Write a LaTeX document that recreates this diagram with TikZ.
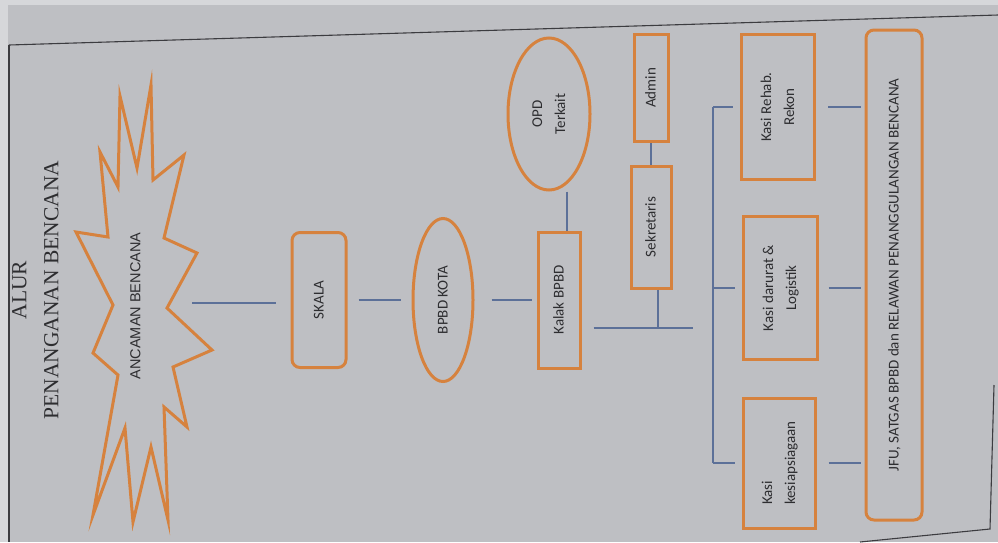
\documentclass[tikz,border=0pt]{standalone}
\usepackage{fontspec}
\usepackage{graphicx}
\setmainfont{Carlito}
\newfontfamily\titlefont{Liberation Serif}
\newfontfamily\starfont{Liberation Sans}
\usetikzlibrary{shapes.geometric}
\definecolor{paper}{RGB}{190,191,195}
\definecolor{margin}{RGB}{214,215,218}
\definecolor{orng}{RGB}{214,130,62}
\definecolor{connc}{RGB}{92,112,152}
\definecolor{ink}{RGB}{45,45,48}
\definecolor{edge}{RGB}{60,60,64}
\newcommand\rtext[1]{\rotatebox{90}{\begin{tabular}{@{}c@{}}#1\end{tabular}}}
\newcommand\rtextl[1]{\rotatebox{90}{\begin{tabular}{@{}l@{}}#1\end{tabular}}}
\tikzset{
  boxtext/.style={text=ink, font=\fontsize{15}{23}\selectfont, inner sep=0pt},
  sqbox/.style={boxtext, draw=orng, line width=3pt, rectangle},
  rbox/.style={sqbox, rounded corners=8pt},
  ellbox/.style={boxtext, draw=orng, line width=3pt, ellipse},
  conn/.style={draw=connc, line width=1.4pt},
  pageline/.style={draw=edge, line width=1.1pt}
}
\begin{document}
\begin{tikzpicture}[x=1pt, y=-1pt]
\useasboundingbox (0,0) rectangle (998,542);
% paper
\fill[paper] (0,0) rectangle (998,542);
\fill[margin] (0,0) rectangle (998,5);
\fill[margin] (0,0) rectangle (8,542);
\draw[pageline] (9,45) -- (998,15);
\draw[pageline] (9,45) -- (9,542);
\draw[pageline] (860,542) -- (990,529) -- (994,385);

% title
\node[text=ink, inner sep=0pt, font=\titlefont\fontsize{21.5}{32}\selectfont] (title) at (36,290)
  {\rtext{ALUR\\PENANGANAN BENCANA}};

% star
\draw[orng, line width=3pt, line join=miter, miter limit=20]
  (120,96) -- (137,168) -- (151,85) -- (153,180) -- (184,155) -- (164,238)
  -- (197,253) -- (167,308) -- (212,350) -- (173,367) -- (187,427) -- (164,407)
  -- (168,520) -- (151,447) -- (133,522) -- (125,428) -- (93,515) -- (118,375)
  -- (93,353) -- (113,305) -- (76,232) -- (108,237) -- (100,152) -- (118,187) -- cycle;
\node[text=ink, inner sep=0pt, font=\starfont\fontsize{14.5}{17}\selectfont] (star) at (137,306)
  {\rtext{ANCAMAN BENCANA}};
\coordinate (starR) at (167,303);

% main chain
\node[rbox, minimum width=54pt, minimum height=135pt] (skala) at (319,300) {\rtext{SKALA}};
\node[ellbox, minimum width=60pt, minimum height=163pt] (kota) at (443,300) {\rtext{BPBD KOTA}};
\node[sqbox, minimum width=42pt, minimum height=136pt] (kalak) at (559,300) {\rtext{Kalak BPBD}};
\node[ellbox, minimum width=82pt, minimum height=152pt] (opd) at (549,114) {\rtext{OPD\\Terkait}};
\node[sqbox, minimum width=34pt, minimum height=107pt] (admin) at (651,88) {\rtext{Admin}};
\node[sqbox, minimum width=40pt, minimum height=122pt] (sek) at (651,227) {\rtext{Sekretaris}};

% kasi boxes
\node[sqbox, minimum width=73pt, minimum height=145pt] (rehab) at (778,107) {\rtext{Kasi Rehab.\\Rekon}};
\node[sqbox, minimum width=74pt, minimum height=143pt] (darurat) at (780,288) {\rtext{Kasi darurat \&\\Logistik}};
\node[sqbox, minimum width=72pt, minimum height=130pt] (kesiap) at (779,463) {\rtextl{Kasi\\kesiapsiagaan}};
\node[rbox, minimum width=56pt, minimum height=490pt] (jfu) at (894,275) {\rtext{JFU, SATGAS BPBD dan RELAWAN PENANGGULANGAN BENCANA}};

% connectors
\draw[conn, shorten <=25pt, shorten >=15pt] (starR) -- (starR -| skala.west);
\draw[conn, shorten <=11pt, shorten >=11pt] (skala.east) -- (kota.west);
\draw[conn, shorten <=17pt, shorten >=5pt] (kota.east) -- (kalak.west);
\coordinate (ox) at (567,0);
\draw[conn] (opd.south -| ox) -- (kalak.north -| ox);
\draw[conn] (admin.south) -- (sek.north);
\coordinate (j) at (658,328);
\coordinate (jr) at (693,328);
\draw[conn] (sek.south -| j) -- (j);
\draw[conn, shorten <=12pt] (kalak.east |- j) -- (jr);
\coordinate (bt) at (713,107);
\coordinate (bm) at (713,288);
\coordinate (bb) at (713,463);
\draw[conn] (bt) -- (bb);
\draw[conn, shorten >=7pt] (bt) -- (bt -| rehab.west);
\draw[conn, shorten >=7pt] (bm) -- (bm -| darurat.west);
\draw[conn, shorten >=7pt] (bb) -- (bb -| kesiap.west);
\draw[conn, shorten <=12pt, shorten >=4pt] (rehab.east) -- (rehab.east -| jfu.west);
\draw[conn, shorten <=10pt, shorten >=4pt] (darurat.east) -- (darurat.east -| jfu.west);
\draw[conn, shorten <=12pt, shorten >=4pt] (kesiap.east) -- (kesiap.east -| jfu.west);
\end{tikzpicture}
\end{document}
